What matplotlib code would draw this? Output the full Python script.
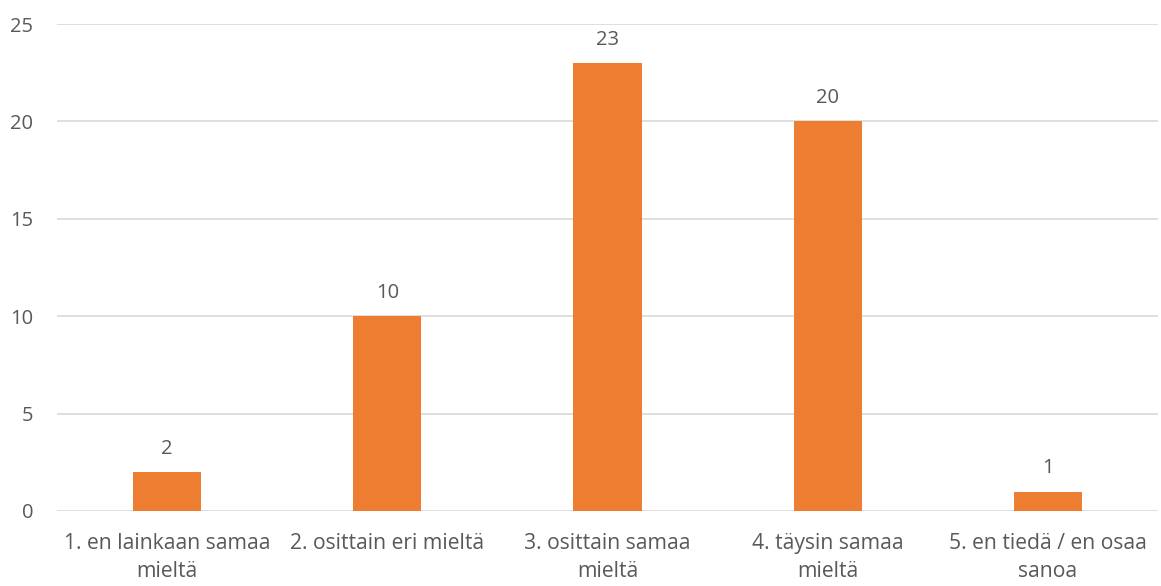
import matplotlib
matplotlib.use("Agg")
import matplotlib.pyplot as plt

categories = ["1. en lainkaan samaa\nmieltä", "2. osittain eri mieltä", "3. osittain samaa\nmieltä",
              "4. täysin samaa\nmieltä", "5. en tiedä / en osaa\nsanoa"]
values = [2, 10, 23, 20, 1]
yticks = [0, 5, 10, 15, 20, 25]

plt.rcParams['font.family'] = ['Open Sans', 'DejaVu Sans']
txt = '#595959'
fs = 14.5
fig = plt.figure(figsize=(11.61, 5.86), dpi=100)
ax = fig.add_axes([57/1161, 75/586, (1158-57)/1161, (511-24)/586])
x = list(range(len(categories)))
ax.bar(x, values, width=0.31, color='#ED7D31', zorder=3)
for xi, v in zip(x, values):
    ax.annotate(str(v), (xi, v), xytext=(0, 9.5), textcoords='offset points', ha='center', va='bottom',
                fontsize=fs, color=txt)
ax.set_xlim(-0.5, len(categories) - 0.5)
ax.set_ylim(0, 25)
ax.set_yticks(yticks)
ax.set_xticks(x)
ax.set_xticklabels(categories, fontsize=15.2, color=txt, linespacing=1.42)
ax.tick_params(axis='y', labelsize=fs, labelcolor=txt, length=0, pad=17)
ax.tick_params(axis='x', length=0, pad=16)
ax.grid(axis='y', color='#D9D9D9', linewidth=1.2, zorder=0)
for s in ax.spines.values():
    s.set_visible(False)
fig.savefig('out.png', dpi=100)
